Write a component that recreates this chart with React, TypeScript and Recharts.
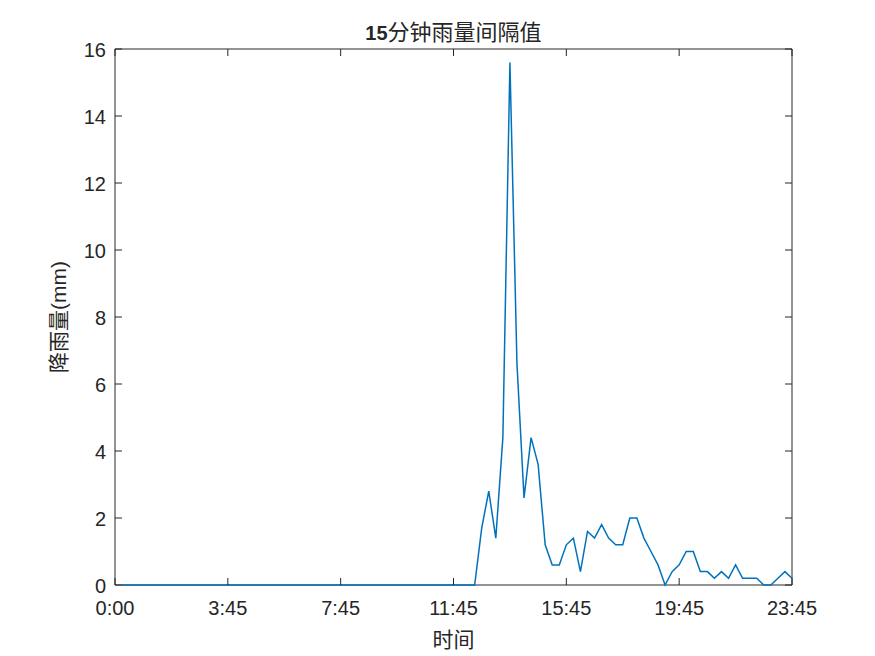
import React from 'react';
import { LineChart, Line, XAxis, YAxis, ReferenceArea } from 'recharts';

// 15-minute rainfall, one value per slot from 0:00 to 23:45
const rainfall = [
  0, 0, 0, 0, 0, 0, 0, 0, 0, 0,
  0, 0, 0, 0, 0, 0, 0, 0, 0, 0,
  0, 0, 0, 0, 0, 0, 0, 0, 0, 0,
  0, 0, 0, 0, 0, 0, 0, 0, 0, 0,
  0, 0, 0, 0, 0, 0, 0, 0, 0, 0,
  0, 1.7, 2.8, 1.4, 4.4, 15.6, 6.6, 2.6, 4.4, 3.6,
  1.2, 0.6, 0.6, 1.2, 1.4, 0.4, 1.6, 1.4, 1.8, 1.4,
  1.2, 1.2, 2.0, 2.0, 1.4, 1.0, 0.6, 0, 0.4, 0.6,
  1.0, 1.0, 0.4, 0.4, 0.2, 0.4, 0.2, 0.6, 0.2, 0.2,
  0.2, 0, 0, 0.2, 0.4, 0.2,
];

const xTicks = [0, 16, 32, 48, 64, 80, 96];
const xTickLabels = ['0:00', '3:45', '7:45', '11:45', '15:45', '19:45', '23:45'];
const yTicks = [0, 2, 4, 6, 8, 10, 12, 14, 16];

const data = rainfall.map((v, i) => ({ idx: i + 1, rain: v }));

const W = 875;
const H = 656;
const M = { top: 49, right: 83, bottom: 0, left: 0 };
const Y_AXIS_W = 115;
const X_AXIS_H = 71;
const PLOT_W = W - M.left - M.right - Y_AXIS_W;
const PLOT_H = H - M.top - M.bottom - X_AXIS_H;
const INK = '#262626';
const LATIN = '"Liberation Sans", Arial, sans-serif';
const CJK = '"Liberation Sans", "Noto Sans CJK SC", sans-serif';

function XTick(props: any) {
  const { x, y, payload } = props;
  const i = xTicks.indexOf(payload.value);
  return (
    <g>
      <line x1={x} y1={y} x2={x} y2={y - 7} stroke={INK} />
      <line x1={x} y1={y - PLOT_H} x2={x} y2={y - PLOT_H + 7} stroke={INK} />
      <text x={x} y={y + 29.5} textAnchor="middle" fontSize={20} fontFamily={LATIN} fill={INK}>
        {xTickLabels[i]}
      </text>
    </g>
  );
}

function YTick(props: any) {
  const { x, y, payload } = props;
  return (
    <g>
      <line x1={x} y1={y} x2={x + 7} y2={y} stroke={INK} />
      <line x1={x + PLOT_W} y1={y} x2={x + PLOT_W - 7} y2={y} stroke={INK} />
      <text x={x - 9} y={y + 8} textAnchor="end" fontSize={20} fontFamily={LATIN} fill={INK}>
        {payload.value}
      </text>
    </g>
  );
}

export default function App() {
  return (
    <div style={{ position: 'absolute', left: 0, top: 0, width: W, height: H, background: '#fff' }}>
      <LineChart width={W} height={H} data={data} margin={M}>
        <XAxis
          dataKey="idx"
          type="number"
          domain={[0, 96]}
          ticks={xTicks}
          interval={0}
          height={X_AXIS_H}
          tickSize={0}
          tickMargin={0}
          axisLine={false}
          tickLine={false}
          tick={<XTick />}
          label={{ value: '时间', position: 'insideBottom', offset: 9, fontSize: 21, fontFamily: CJK, fill: INK }}
        />
        <YAxis
          type="number"
          domain={[0, 16]}
          ticks={yTicks}
          interval={0}
          width={Y_AXIS_W}
          tickSize={0}
          tickMargin={0}
          axisLine={false}
          tickLine={false}
          tick={<YTick />}
          label={{
            value: '降雨量(mm)',
            angle: -90,
            position: 'insideLeft',
            offset: 59,
            fontSize: 21,
            fontFamily: CJK,
            fill: INK,
            style: { textAnchor: 'middle' },
          }}
        />
        <ReferenceArea x1={0} x2={96} y1={0} y2={16} fill="none" stroke={INK} strokeWidth={1} />
        <Line
          type="linear"
          dataKey="rain"
          stroke="#0072BD"
          strokeWidth={1.5}
          dot={false}
          isAnimationActive={false}
        />
      </LineChart>
      <svg width={W} height={60} style={{ position: 'absolute', left: 0, top: 0, pointerEvents: 'none' }}>
        <text x={M.left + Y_AXIS_W + PLOT_W / 2} y={39.5} textAnchor="middle" fill={INK}>
          <tspan fontFamily={LATIN} fontWeight="bold" fontSize={20}>15</tspan>
          <tspan fontFamily='"Noto Sans CJK SC", sans-serif' fontSize={22}>分钟雨量间隔值</tspan>
        </text>
      </svg>
    </div>
  );
}
